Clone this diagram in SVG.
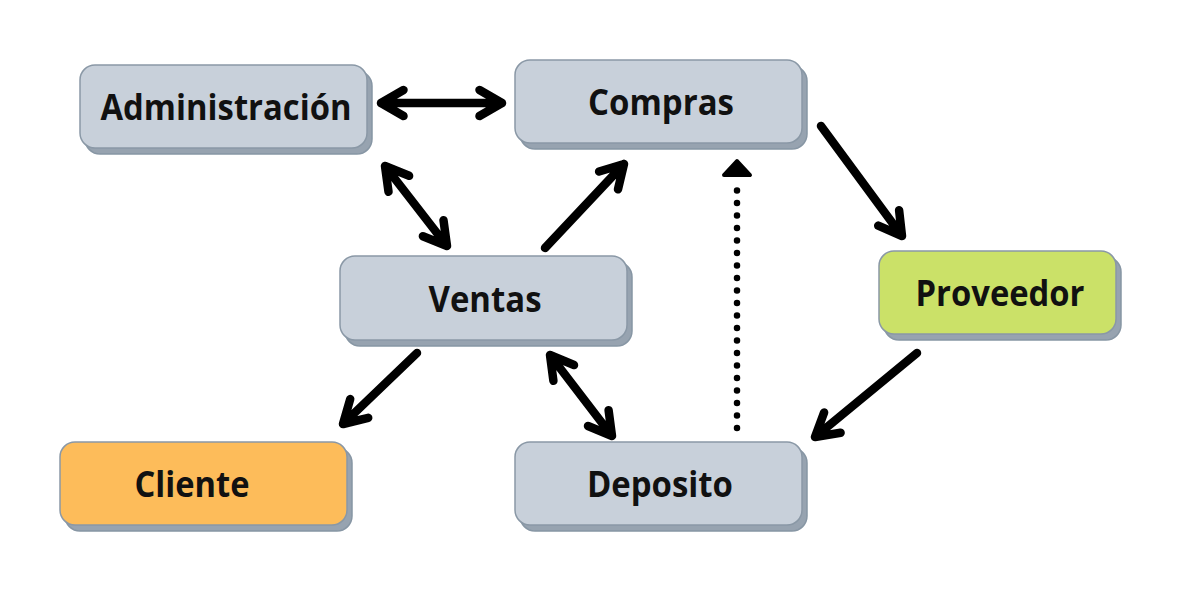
<svg xmlns="http://www.w3.org/2000/svg" width="1181" height="591" viewBox="0 0 1181 591">
<style>
.sh{fill:#97a3b0;stroke:#8796a4;stroke-width:1.5}
.bx{stroke:#8a98a6;stroke-width:1.5}
.gray{fill:#c8d0da}
.orange{fill:#fdbc5a}
.green{fill:#cbe168}
.lbl{font-family:"Open Sans","Noto Sans","Liberation Sans",sans-serif;font-weight:700;font-size:36px;fill:#111;text-anchor:middle}
.ln{fill:none;stroke:#000;stroke-width:8.5;stroke-linecap:round;stroke-linejoin:round}
.dot{fill:none;stroke:#000;stroke-width:6.5;stroke-linecap:round;stroke-dasharray:0 12.5}
</style>
<rect width="1181" height="591" fill="#fff"/>
<g id="connectors">
  <path class="ln" d="M381,103 L502,103 M403.5,90 L381,103 L403.5,116 M479.5,90 L502,103 L479.5,116"/>
  <path class="ln" d="M385,166 L447,246 M443.5,220.2 L447,246 L422.9,236.2 M388.5,191.8 L385,166 L409.1,175.8"/>
  <path class="ln" d="M545,248 L624,164 M599.1,171.5 L624,164 L618,189.3"/>
  <path class="ln" d="M821,126 L902,236 M899.1,210.2 L902,236 L878.2,225.6"/>
  <path class="ln" d="M917,353 L815,437 M840.6,432.7 L815,437 L824.1,412.6"/>
  <path class="ln" d="M417,353 L343,424 M368.2,417.8 L343,424 L350.2,399.1"/>
  <path class="ln" d="M550,355 L612,436 M608.6,410.2 L612,436 L588,426 M553.4,380.8 L550,355 L574,365"/>
  <path class="dot" d="M737,428 L737,184"/>
  <polygon points="737,161 750,175 724,175" fill="#000" stroke="#000" stroke-width="4" stroke-linejoin="round"/>
</g>
<g id="administracion">
  <rect class="sh" x="85" y="71" width="287" height="83" rx="15"/>
  <rect class="bx gray" x="80" y="65" width="287" height="83" rx="15"/>
  <text class="lbl" x="226" y="120" textLength="251" lengthAdjust="spacingAndGlyphs">Administración</text>
</g>
<g id="compras">
  <rect class="sh" x="520" y="66" width="287" height="83" rx="15"/>
  <rect class="bx gray" x="515" y="60" width="287" height="83" rx="15"/>
  <text class="lbl" x="661" y="115" textLength="146" lengthAdjust="spacingAndGlyphs">Compras</text>
</g>
<g id="ventas">
  <rect class="sh" x="345" y="262" width="287" height="84" rx="15"/>
  <rect class="bx gray" x="340" y="256" width="287" height="84" rx="15"/>
  <text class="lbl" x="485" y="311.5" textLength="113" lengthAdjust="spacingAndGlyphs">Ventas</text>
</g>
<g id="proveedor">
  <rect class="sh" x="884" y="257" width="237" height="83" rx="15"/>
  <rect class="bx green" x="879" y="251" width="237" height="83" rx="15"/>
  <text class="lbl" x="1000" y="306" textLength="169" lengthAdjust="spacingAndGlyphs">Proveedor</text>
</g>
<g id="cliente">
  <rect class="sh" x="65" y="448" width="287" height="83" rx="15"/>
  <rect class="bx orange" x="60" y="442" width="287" height="83" rx="15"/>
  <text class="lbl" x="192" y="497" textLength="115" lengthAdjust="spacingAndGlyphs">Cliente</text>
</g>
<g id="deposito">
  <rect class="sh" x="520" y="448" width="287" height="83" rx="15"/>
  <rect class="bx gray" x="515" y="442" width="287" height="83" rx="15"/>
  <text class="lbl" x="660" y="497" textLength="146" lengthAdjust="spacingAndGlyphs">Deposito</text>
</g>
</svg>
